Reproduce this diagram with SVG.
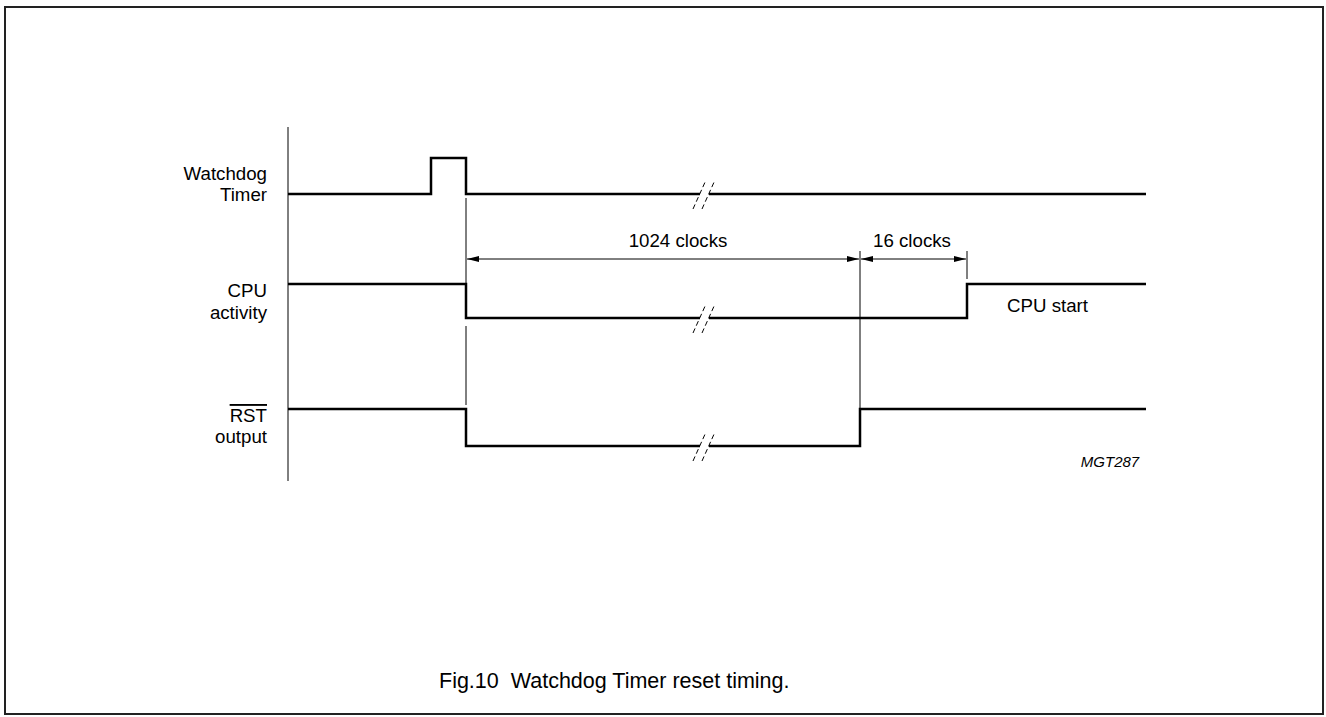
<svg xmlns="http://www.w3.org/2000/svg" width="1326" height="717" viewBox="0 0 1326 717">
<defs>
<style>
.sig{fill:none;stroke:#000;stroke-width:2.5}
.thin{fill:none;stroke:#000;stroke-width:1}
.brk{fill:none;stroke:#000;stroke-width:1;stroke-dasharray:5,3}
.lbl{font-family:"Liberation Sans",Arial,sans-serif;font-size:18.7px;fill:#000}
</style>
<marker id="ah" viewBox="0 0 12 6" refX="12" refY="3" markerWidth="12" markerHeight="6" markerUnits="userSpaceOnUse" orient="auto-start-reverse">
<path d="M0,0 L12,3 L0,6 z" fill="#000"/>
</marker>
</defs>
<rect x="5" y="7" width="1318" height="707" fill="#fff" stroke="#222" stroke-width="2"/>
<g id="axis"><line class="thin" x1="288" y1="127" x2="288" y2="481"/></g>
<g id="watchdog">
<text class="lbl" x="267" y="180" text-anchor="end">Watchdog</text>
<text class="lbl" x="267" y="201" text-anchor="end">Timer</text>
<path class="sig" d="M288,194 H431 V158 H466 V194 H700 M709,194 H1146"/>
<line class="brk" x1="693" y1="209" x2="706" y2="180"/>
<line class="brk" x1="702" y1="209" x2="715" y2="180"/>
</g>
<g id="cpu">
<text class="lbl" x="267" y="297" text-anchor="end">CPU</text>
<text class="lbl" x="267" y="319" text-anchor="end">activity</text>
<path class="sig" d="M288,284 H466 V318 H700 M709,318 H967 V284 H1146"/>
<line class="brk" x1="693" y1="333" x2="706" y2="304"/>
<line class="brk" x1="702" y1="333" x2="715" y2="304"/>
<text class="lbl" x="1007" y="312">CPU start</text>
</g>
<g id="rst">
<text class="lbl" x="267" y="422" text-anchor="end" text-decoration="overline">RST</text>
<text class="lbl" x="267" y="443" text-anchor="end">output</text>
<path class="sig" d="M288,409 H466 V446 H700 M709,446 H860 V409 H1146"/>
<line class="brk" x1="693" y1="461" x2="706" y2="432"/>
<line class="brk" x1="702" y1="461" x2="715" y2="432"/>
</g>
<g id="connectors">
<path class="thin" d="M466,198 V283 M466,326 V405"/>
<line class="thin" x1="860" y1="251" x2="860" y2="409"/>
<line class="thin" x1="967" y1="251" x2="967" y2="279"/>
<line class="thin" x1="467" y1="259" x2="859" y2="259" marker-start="url(#ah)" marker-end="url(#ah)"/>
<line class="thin" x1="861" y1="259" x2="966" y2="259" marker-start="url(#ah)" marker-end="url(#ah)"/>
<text class="lbl" x="678" y="247" text-anchor="middle">1024 clocks</text>
<text class="lbl" x="912" y="247" text-anchor="middle">16 clocks</text>
</g>
<text x="1110" y="467" text-anchor="middle" font-family="Liberation Sans,Arial,sans-serif" font-size="15" font-style="italic">MGT287</text>
<text x="439" y="688" font-family="Liberation Sans,Arial,sans-serif" font-size="21.5" xml:space="preserve">Fig.10  Watchdog Timer reset timing.</text>
</svg>
